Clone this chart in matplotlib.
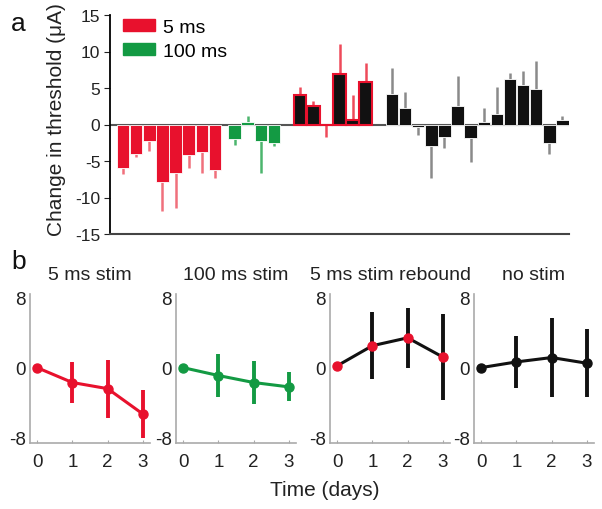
import numpy as np
import matplotlib.pyplot as plt
from matplotlib.patches import Patch

plt.rcParams['font.family'] = ['Liberation Sans', 'DejaVu Sans']
plt.rcParams['axes.unicode_minus'] = False

# Panel a: change in threshold per electrode (uA)
red_vals = [-5.9, -4.0, -2.3, -7.9, -6.7, -4.2, -3.7, -6.3]
red_err = [0.9, 0.5, 1.3, 3.9, 4.8, 1.8, 2.9, 1.0]
green_vals = [-2.0, 0.3, -2.3, -2.5]
green_err = [0.8, 0.8, 4.3, 0.5]
rebound_vals = [4.1, 2.5, -0.1, 6.9, 0.6, 5.8]
rebound_err = [1.0, 0.7, 1.6, 4.1, 3.5, 2.6]
black_vals = [4.2, 2.2, -0.4, -2.9, -1.7, 2.5, -1.8, 0.3, 1.4, 6.2, 5.4, 4.8, -2.5, 0.6]
black_err = [3.6, 2.2, 1.0, 4.4, 1.5, 4.1, 3.3, 1.9, 3.7, 0.8, 1.9, 3.9, 1.5, 0.5]

# Panel b: mean change over days
days = [0, 1, 2, 3]
panel_titles = ["5 ms stim", "100 ms stim", "5 ms stim rebound", "no stim"]
means = [[0, -1.7, -2.4, -5.3],
         [0, -0.9, -1.7, -2.2],
         [0.2, 2.5, 3.4, 1.2],
         [0, 0.65, 1.15, 0.5]]
sems = [[0, 2.3, 3.3, 2.7],
        [0, 2.45, 2.5, 1.65],
        [0, 3.8, 3.45, 4.9],
        [0, 3.0, 4.5, 3.9]]

RED = "#e8112d"
GREEN = "#139a43"
BLACK = "#111111"
TXT = "#222222"

fig = plt.figure(figsize=(6.02, 5.10), dpi=100)
W, H = 602, 510


def px_axes(left, top, right, bottom):
    return fig.add_axes([left / W, 1 - bottom / H, (right - left) / W, (bottom - top) / H])


# ---- panel a ----
ax = px_axes(110, 16, 569, 235)
groups = [
    (red_vals, red_err, RED, RED, "#f0707c", 1.0),
    (green_vals, green_err, GREEN, GREEN, "#4cb56d", 9.5),
    (rebound_vals, rebound_err, BLACK, RED, "#ee4a5a", 14.5),
    (black_vals, black_err, BLACK, BLACK, "#8a8a8a", 21.5),
]
ax.axhline(0, color="#555555", lw=1.5, zorder=1)
for vals, errs, fc, ec, errc, start in groups:
    vals = np.array(vals)
    errs = np.array(errs)
    x = start + np.arange(len(vals))
    lw = 1.5 if fc != ec else 0.6
    edge = ec if fc != ec else "white"
    ax.bar(x, vals, width=0.95, color=fc, edgecolor=edge, linewidth=lw, zorder=2)
    sign = np.where(vals >= 0, 1, -1)
    ax.vlines(x, vals, vals + sign * errs, color=errc, lw=1.8, zorder=1.5)

ax.set_xlim(0, 35)
ax.set_ylim(-15, 15)
ax.set_yticks([-15, -10, -5, 0, 5, 10, 15])
ax.set_xticks([])
ax.tick_params(axis="y", direction="out", length=4, labelsize=12.5, colors=TXT, pad=3)
ax.spines["top"].set_visible(False)
ax.spines["right"].set_visible(False)
ax.spines["left"].set_linewidth(1.3)
ax.spines["bottom"].set_color("#444444")
ax.spines["bottom"].set_linewidth(1.5)
ax.set_ylabel("Change in threshold (\u03bcA)", fontsize=15, color=TXT)
ax.yaxis.set_label_coords((66 - 110) / 459, 0.525)

ax.legend(handles=[Patch(color=RED, label="5 ms"), Patch(color=GREEN, label="100 ms")],
          loc="upper left", bbox_to_anchor=(123 / W, 1 - 20 / H),
          bbox_transform=fig.transFigure, frameon=False, fontsize=14,
          borderpad=0, borderaxespad=0,
          handlelength=1.65, handleheight=0.55, handletextpad=0.4, labelspacing=0.35)

# ---- panel b ----
lefts = [30, 176, 330, 474]
line_colors = [RED, GREEN, BLACK, BLACK]
marker_colors = [RED, GREEN, RED, BLACK]
err_colors = [RED, GREEN, BLACK, BLACK]
for i in range(4):
    bx = px_axes(lefts[i], 295, lefts[i] + 120, 444)
    bx.errorbar(days, means[i], yerr=sems[i], color=line_colors[i], ecolor=err_colors[i],
                elinewidth=2.8, lw=2.2, marker="o", ms=6.5, mfc=marker_colors[i],
                mec=marker_colors[i], capsize=0, zorder=3)
    bx.set_xlim(-0.2, 3.2)
    bx.set_ylim(-8.6, 8.4)
    bx.set_xticks(days)
    bx.set_yticks([-8, 0, 8])
    bx.tick_params(axis="x", direction="in", length=2, color="#aaaaaa", labelsize=13.5,
                   labelcolor=TXT, pad=7)
    bx.tick_params(axis="y", length=0, labelsize=13.5, labelcolor=TXT, pad=3)
    for s in ["top", "right"]:
        bx.spines[s].set_visible(False)
    for s in ["left", "bottom"]:
        bx.spines[s].set_color("#aaaaaa")
        bx.spines[s].set_linewidth(1.2)
    bx.set_title(panel_titles[i], fontsize=14, color=TXT, pad=11)

fig.text(325 / W, 1 - 491 / H, "Time (days)", fontsize=15, ha="center", va="center", color=TXT)
fig.text(11 / W, 1 - 24 / H, "a", fontsize=19, ha="left", va="center", color="#111111")
fig.text(11 / W, 1 - 262 / H, "b", fontsize=19, ha="left", va="center", color="#111111")

fig.savefig("out.png", dpi=100)
